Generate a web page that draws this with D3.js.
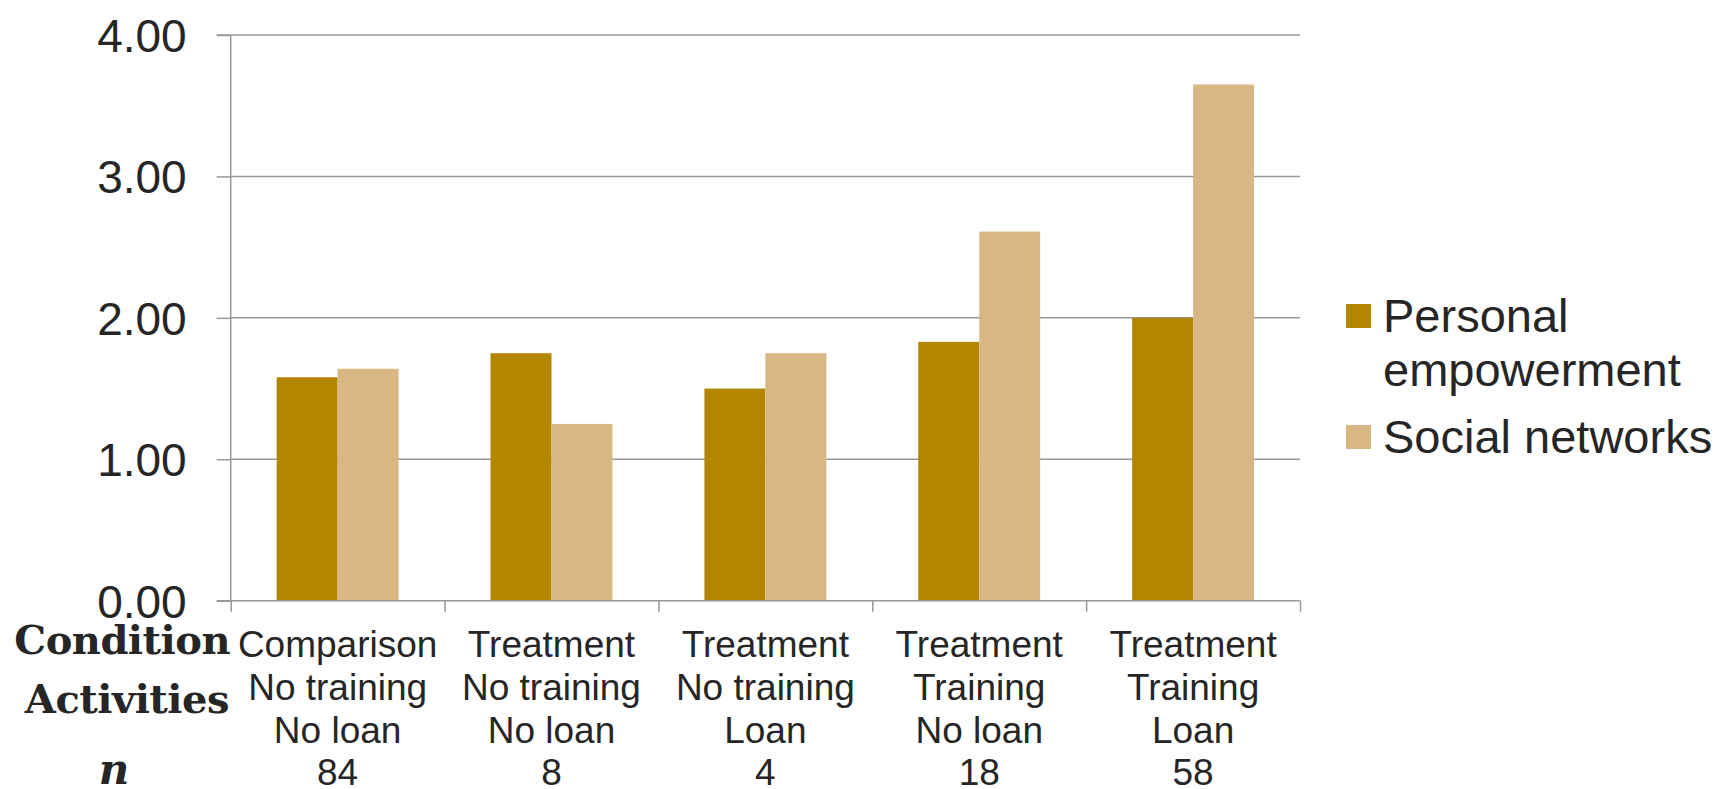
<!DOCTYPE html>
<html>
<head>
<meta charset="utf-8">
<script src="https://cdn.jsdelivr.net/npm/d3@7"></script>
<style>
  html, body { margin: 0; padding: 0; background: #ffffff; }
  svg { display: block; }
</style>
</head>
<body>
<svg id="chart" width="1723" height="789"></svg>
<script>
// ---- data ----
const conditions = ["Comparison", "Treatment", "Treatment", "Treatment", "Treatment"];
const trainingLabels = ["No training", "No training", "No training", "Training", "Training"];
const loanLabels = ["No loan", "No loan", "Loan", "No loan", "Loan"];
const nValues = ["84", "8", "4", "18", "58"];
const seriesNames = ["Personal empowerment", "Social networks"];
const personalEmpowerment = [1.58, 1.75, 1.50, 1.83, 2.00];
const socialNetworks = [1.64, 1.25, 1.75, 2.61, 3.65];
const yTicks = [0, 1, 2, 3, 4];

// ---- layout ----
const svg = d3.select("#chart");
const plotLeft = 230.7, plotRight = 1300, plotTop = 35, plotBottom = 600.7;
const textColor = "#262626";
const gridColor = "#989898";
const colors = ["#B38600", "#D9B784"];
const idx = d3.range(conditions.length);

const y = d3.scaleLinear().domain([0, 4]).range([plotBottom, plotTop]);
const x0 = d3.scaleBand().domain(idx).range([plotLeft, plotRight]).paddingInner(0.43).paddingOuter(0.215);
const x1 = d3.scaleBand().domain([0, 1]).range([0, x0.bandwidth()]);
const xb = d3.scaleLinear().domain([0, conditions.length]).range([plotLeft, plotRight]);

// gridlines
svg.append("g").selectAll("line").data(yTicks.filter(d => d > 0)).join("line")
  .attr("x1", plotLeft).attr("x2", plotRight)
  .attr("y1", d => y(d)).attr("y2", d => y(d))
  .attr("stroke", gridColor).attr("stroke-width", 1.5);

// bars
const series = [personalEmpowerment, socialNetworks];
const gBars = svg.append("g");
series.forEach((vals, s) => {
  gBars.selectAll(null).data(vals).join("rect")
    .attr("x", (d, i) => x0(i) + x1(s))
    .attr("y", d => y(d))
    .attr("width", x1.bandwidth())
    .attr("height", d => y(0) - y(d))
    .attr("fill", colors[s]);
});

// y axis
const yAxis = svg.append("g").attr("transform", `translate(${plotLeft},0)`)
  .call(d3.axisLeft(y).tickValues(yTicks).tickFormat(d3.format(".2f")).tickSize(14).tickPadding(30));
yAxis.select(".domain").attr("stroke", gridColor).attr("stroke-width", 1.5).attr("d", `M-14,${plotTop}H0V${plotBottom}`);
yAxis.selectAll(".tick line").attr("stroke", gridColor).attr("stroke-width", 1.5);
yAxis.selectAll(".tick text")
  .attr("fill", textColor)
  .style("font-family", "'Liberation Sans', Arial, sans-serif")
  .style("font-size", "46px")
  .attr("dy", "0.36em");

// x axis (boundary ticks)
const xAxis = svg.append("g").attr("transform", `translate(0,${plotBottom})`)
  .call(d3.axisBottom(xb).tickValues(d3.range(conditions.length + 1)).tickSize(11).tickFormat(""));
xAxis.select(".domain").attr("stroke", gridColor).attr("stroke-width", 1.5).attr("d", `M${plotLeft - 14},0H${plotRight}`);
xAxis.selectAll(".tick line").attr("stroke", gridColor).attr("stroke-width", 1.5);

// category labels
const lines = [conditions, trainingLabels, loanLabels, nValues];
const baselines = [657, 700, 743, 785];
const gLab = svg.append("g")
  .style("font-family", "'Liberation Sans', Arial, sans-serif")
  .style("font-size", "37px")
  .attr("fill", textColor)
  .attr("text-anchor", "middle");
lines.forEach((arr, li) => {
  gLab.selectAll(null).data(arr).join("text")
    .attr("x", (d, i) => x0(i) + x0.bandwidth() / 2)
    .attr("y", baselines[li])
    .text(d => d);
});

// row headers
const gHead = svg.append("g")
  .style("font-family", "'DejaVu Serif', serif")
  .style("font-weight", "bold")
  .attr("fill", textColor);
gHead.append("text").attr("x", 230).attr("y", 654).attr("text-anchor", "end")
  .style("font-size", "40px").style("letter-spacing", "-0.5px").text("Condition");
gHead.append("text").attr("x", 229).attr("y", 713).attr("text-anchor", "end")
  .style("font-size", "40px").style("letter-spacing", "-0.5px").text("Activities");
gHead.append("text").attr("x", 114).attr("y", 784).attr("text-anchor", "middle")
  .style("font-size", "42px").style("font-style", "italic").text("n");

// legend
const legend = svg.append("g")
  .style("font-family", "'Liberation Sans', Arial, sans-serif")
  .style("font-size", "47px")
  .attr("fill", textColor);
const legendItems = [
  { lines: ["Personal", "empowerment"], y: 332 },
  { lines: ["Social networks"], y: 453 }
];
legendItems.forEach((item, i) => {
  legend.append("rect").attr("x", 1346).attr("y", item.y - 28).attr("width", 25).attr("height", 24)
    .attr("fill", colors[i]);
  const t = legend.append("text").attr("x", 1383).attr("y", item.y);
  item.lines.forEach((ln, k) => {
    t.append("tspan").attr("x", 1383).attr("dy", k === 0 ? 0 : 54).text(ln);
  });
});
</script>
</body>
</html>
